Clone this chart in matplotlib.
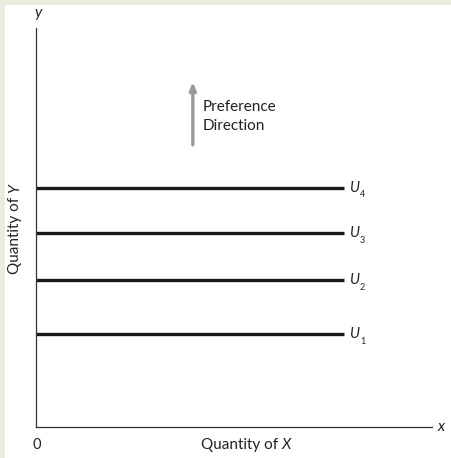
import matplotlib
matplotlib.use("Agg")
import matplotlib.pyplot as plt
from matplotlib.patches import Rectangle

# Data
curve_labels = ["1", "2", "3", "4"]
utility_levels = [2.33, 3.68, 4.85, 6.0]
x_start = 0.0
x_end = 7.78
arrow_x = 3.96
arrow_y = [7.07, 8.65]

FONT = "Lato"
W, H = 451, 458
fig = plt.figure(figsize=(W / 100, H / 100), dpi=100, facecolor="white")

# beige border strips
fig.patches.append(Rectangle((0, 1 - 5 / H), 1, 5 / H, transform=fig.transFigure,
                             facecolor="#EBEBDF", edgecolor="none", zorder=0))
fig.patches.append(Rectangle((0, 0), 5 / W, 1, transform=fig.transFigure,
                             facecolor="#EBEBDF", edgecolor="none", zorder=0))

left, right, bottom, top = 36, 432, 427, 28
ax = fig.add_axes([left / W, (H - bottom) / H, (right - left) / W, (bottom - top) / H])
ax.set_xlim(0, 10)
ax.set_ylim(0, 10)
ax.patch.set_alpha(0)
for s in ["top", "right"]:
    ax.spines[s].set_visible(False)
for s in ["left", "bottom"]:
    ax.spines[s].set_color("#333333")
    ax.spines[s].set_linewidth(0.9)
ax.set_xticks([])
ax.set_yticks([])

for lab, u in zip(curve_labels, utility_levels):
    ax.plot([x_start, x_end], [u, u], color="#1a1a1a", lw=2.4, solid_capstyle="butt", clip_on=False)
    ax.text(x_end + 0.15, u, "U", fontfamily=FONT, fontstyle="italic", fontsize=10.5,
            va="center", ha="left", color="#222222")
    ax.text(x_end + 0.40, u - 0.18, lab, fontfamily=FONT, fontsize=6.5,
            va="center", ha="left", color="#222222")

ax.annotate("", xy=(arrow_x, arrow_y[1]), xytext=(arrow_x, arrow_y[0]),
            arrowprops=dict(arrowstyle="-|>,head_length=0.45,head_width=0.18",
                            color="#999999", lw=2.4, shrinkA=0, shrinkB=0))
ax.text(4.22, 7.78, "Preference\nDirection", fontfamily=FONT, fontsize=11,
        va="center", ha="left", color="#222222", linespacing=1.4)

# axis annotations
ax.text(10.15, 0, "x", fontfamily=FONT, fontstyle="italic", fontsize=11,
        va="center", ha="left", color="#222222", clip_on=False)
ax.text(0.05, 10.37, "y", fontfamily=FONT, fontstyle="italic", fontsize=11,
        va="center", ha="center", color="#222222", clip_on=False)
ax.text(0.03, -0.45, "0", fontfamily=FONT, fontsize=10.5,
        va="center", ha="center", color="#222222", clip_on=False)
ax.text(6.2, -0.45, "Quantity of ", fontfamily=FONT, fontsize=11,
        va="center", ha="right", color="#222222", clip_on=False)
ax.text(6.2, -0.45, "X", fontfamily=FONT, fontstyle="italic", fontsize=11,
        va="center", ha="left", color="#222222", clip_on=False)
split_y = 1 - 193 / H
fig.text(15 / W, split_y, "Quantity of ", fontfamily=FONT, fontsize=11,
         rotation=90, va="top", ha="center", color="#222222")
fig.text(15 / W, split_y, "Y", fontfamily=FONT, fontstyle="italic", fontsize=11,
         rotation=90, va="bottom", ha="center", color="#222222")

fig.savefig("out.png", dpi=100, facecolor="white")
